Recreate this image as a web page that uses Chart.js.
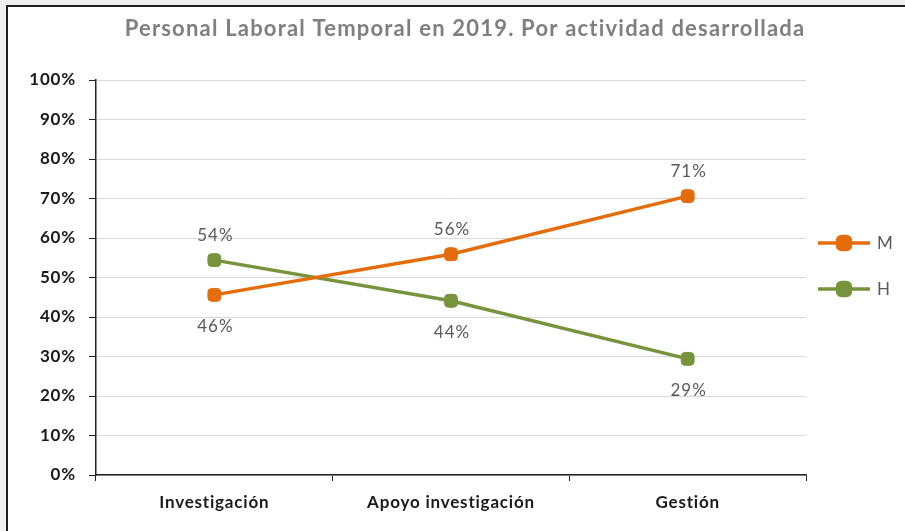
<!DOCTYPE html>
<html>
<head>
<meta charset="utf-8">
<script src="https://cdn.jsdelivr.net/npm/chart.js@4.4.1/dist/chart.umd.min.js"></script>
<style>
  html, body { margin: 0; padding: 0; width: 905px; height: 531px; overflow: hidden; background: #efefef; }
  #box { position: absolute; left: 6px; top: 5px; width: 1000px; height: 600px; background: #fff;
         border-left: 2px solid #1e1e1e; border-top: 2px solid #1e1e1e; }
  #chart { position: absolute; left: 0; top: 0; }
</style>
</head>
<body>
<div id="box"></div>
<canvas id="chart" width="905" height="531"></canvas>
<script>
const categories = ['Investigación', 'Apoyo investigación', 'Gestión'];
const mujeres = [45.6, 55.9, 70.6];
const hombres = [54.4, 44.1, 29.4];
const seriesNames = ['M', 'H'];
const titleText = 'Personal Laboral Temporal en 2019. Por actividad desarrollada';

const ORANGE = '#e46c0a';
const GREEN = '#77933c';
const FONT = 'Lato, Carlito, Calibri, sans-serif';

// espaciado de letras para acercarse al ancho de Calibri en el original
const spacing = {
    id: 'spacing',
    beforeLayout(chart) { chart.ctx.letterSpacing = '0.8px'; },
    beforeDraw(chart) { chart.ctx.letterSpacing = '0.8px'; }
};

// titulo en gris, algo desplazado a la derecha como en el original
const titlePlugin = {
    id: 'titleText',
    afterDraw(chart) {
        const ctx = chart.ctx;
        ctx.save();
        ctx.letterSpacing = '1.2px';
        ctx.font = 'bold 22px ' + FONT;
        ctx.fillStyle = '#7f7f7f';
        ctx.textAlign = 'center';
        ctx.textBaseline = 'middle';
        ctx.fillText(titleText, 465, 29);
        ctx.restore();
    }
};

// etiquetas de datos: encima si la serie es la mayor en ese punto
const valueLabels = {
    id: 'valueLabels',
    afterDatasetsDraw(chart) {
        const ctx = chart.ctx;
        ctx.save();
        ctx.letterSpacing = '1px';
        ctx.font = '17px ' + FONT;
        ctx.fillStyle = '#595959';
        ctx.textAlign = 'center';
        ctx.textBaseline = 'middle';
        chart.data.datasets.forEach((ds, di) => {
            const other = chart.data.datasets[1 - di].data;
            chart.getDatasetMeta(di).data.forEach((pt, i) => {
                const above = ds.data[i] > other[i];
                ctx.fillText(Math.round(ds.data[i]) + '%', pt.x + 1, pt.y + (above ? -25 : 32));
            });
        });
        ctx.restore();
    }
};

// leyenda estilo Excel: linea con marcador
const sideLegend = {
    id: 'sideLegend',
    afterDraw(chart) {
        const ctx = chart.ctx;
        const x0 = chart.chartArea.right + 12;
        ctx.save();
        chart.data.datasets.forEach((ds, i) => {
            const y = 243 + i * 46;
            ctx.strokeStyle = ds.borderColor;
            ctx.lineWidth = ds.borderWidth;
            ctx.beginPath();
            ctx.moveTo(x0, y);
            ctx.lineTo(x0 + 52, y);
            ctx.stroke();
            ctx.fillStyle = ds.borderColor;
            Chart.helpers.drawPoint(ctx, {
                pointStyle: 'rectRounded', radius: ds.pointRadius, borderWidth: 1, rotation: 0
            }, x0 + 26, y);
            ctx.letterSpacing = '0px';
            ctx.font = '17px ' + FONT;
            ctx.fillStyle = '#595959';
            ctx.textAlign = 'left';
            ctx.textBaseline = 'middle';
            ctx.fillText(ds.label, x0 + 59, y + 1);
        });
        ctx.restore();
    }
};

function serie(label, data, color) {
    return {
        label: label,
        data: data,
        borderColor: color,
        backgroundColor: color,
        borderWidth: 3.5,
        tension: 0,
        pointStyle: 'rectRounded',
        pointRadius: 7.5,
        pointBorderWidth: 1,
        pointBackgroundColor: color,
        pointBorderColor: color
    };
}

new Chart(document.getElementById('chart'), {
    type: 'line',
    data: {
        labels: categories,
        datasets: [
            serie(seriesNames[0], mujeres, ORANGE),
            serie(seriesNames[1], hombres, GREEN)
        ]
    },
    options: {
        responsive: false,
        animation: false,
        layout: { padding: { top: 80, right: 99, left: 0, bottom: 0 } },
        plugins: { legend: { display: false }, title: { display: false }, tooltip: { enabled: false } },
        scales: {
            x: {
                offset: true,
                afterFit: s => { s.height = 56; },
                grid: { offset: true, drawOnChartArea: false, drawTicks: true, tickLength: 6, tickColor: '#222' },
                border: { color: '#222', width: 1.5 },
                ticks: { padding: 11, color: '#1a1a1a', font: { family: FONT, size: 17, weight: 'bold' } }
            },
            y: {
                min: 0,
                max: 100,
                afterFit: s => { s.width = 96; },
                grid: { color: '#d9d9d9', lineWidth: 1, tickLength: 7, tickColor: '#222' },
                border: { color: '#222', width: 1.5 },
                ticks: {
                    stepSize: 10,
                    padding: 13,
                    color: '#1a1a1a',
                    font: { family: FONT, size: 17, weight: 'bold' },
                    callback: v => v + '%'
                }
            }
        }
    },
    plugins: [spacing, titlePlugin, valueLabels, sideLegend]
});
</script>
</body>
</html>
